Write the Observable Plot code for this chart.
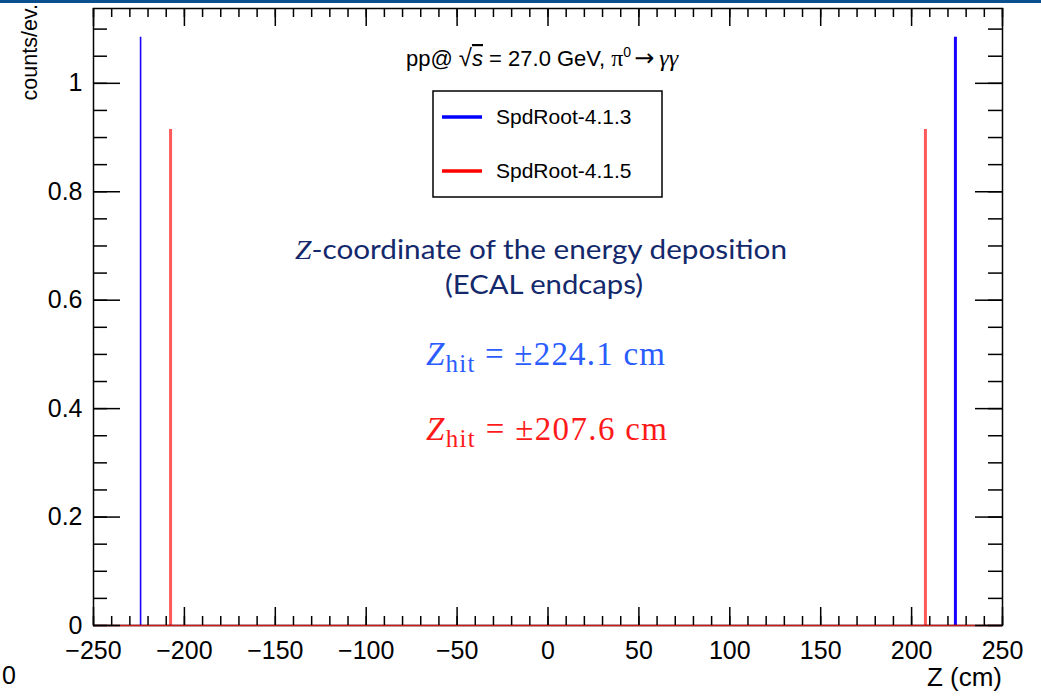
<!DOCTYPE html>
<html><head><meta charset="utf-8">
<script src="https://cdn.jsdelivr.net/npm/d3@7"></script>
<script src="https://cdn.jsdelivr.net/npm/@observablehq/plot@0.6"></script>
<style>
body{margin:0;background:#fff;}
#wrap{position:relative;width:1041px;height:696px;overflow:hidden;background:#fff;}
#wrap svg{position:absolute;left:0;top:0;}
#band{position:absolute;left:0;top:0;width:1041px;height:3px;background:#0b4f8e;}
</style></head><body><div id="wrap"><div id="band"></div></div>
<script>
// ---- data ----
const series = ["SpdRoot-4.1.3", "SpdRoot-4.1.5"];
const zHit = [224.1, 207.6];          // |Z| of the peaks (cm)
const peakCounts = [1.085, 0.915];    // counts/ev. of each peak
const xTickValues = [-250, -200, -150, -100, -50, 0, 50, 100, 150, 200, 250];
const xTickLabels = ["−250", "−200", "−150", "−100", "−50", "0", "50", "100", "150", "200", "250"];
const yTickValues = [0, 0.2, 0.4, 0.6, 0.8, 1];
const yTickLabels = ["0", "0.2", "0.4", "0.6", "0.8", "1"];
const xMinorStep = 10;
const yMinorStep = 0.05;
const xDomain = [-250, 250];
const yDomain = [0, 1.138];
const seriesColors = ["#1a00ff", "#ff5a5a"];
const legendColors = ["#0000ff", "#ff0000"];

// ---- derived tables ----
const bins = series.flatMap((s, i) => [
  {series: s, z: -zHit[i], counts: peakCounts[i]},
  {series: s, z: zHit[i], counts: peakCounts[i]}
]);
const xMinor = d3.range(xDomain[0], xDomain[1] + 1e-9, xMinorStep);
const yMinor = d3.range(yDomain[0], yDomain[1], yMinorStep);

const W = 1041, H = 696, mL = 93, mR = 39, mT = 8, mB = 71;
const iW = W - mL - mR, iH = H - mT - mB;
const font = "'Liberation Sans', Arial, Helvetica, sans-serif";

const chart = Plot.plot({
  width: W, height: H,
  marginLeft: mL, marginRight: mR, marginTop: mT, marginBottom: mB,
  style: {fontFamily: font, background: "transparent", color: "black", overflow: "visible"},
  x: {domain: xDomain, label: null},
  y: {domain: yDomain, label: null},
  color: {domain: series, range: seriesColors},
  marks: [
    Plot.ruleX(bins, {x: "z", y1: 0, y2: "counts", stroke: "series",
      strokeWidth: d => (d.series === series[0] && d.z < 0) ? 1.6 : 3}),
    Plot.frame({stroke: "black", strokeWidth: 1.5}),
    Plot.ruleY([0], {stroke: "#c81a1a", strokeWidth: 1.6}),
    // inward ticks, ROOT style, on all four sides
    Plot.ruleX(xMinor, {insetTop: iH - 9, stroke: "black", strokeWidth: 1.5}),
    Plot.ruleX(xTickValues, {insetTop: iH - 18, stroke: "black", strokeWidth: 1.5}),
    Plot.ruleX(xMinor, {insetBottom: iH - 9, stroke: "black", strokeWidth: 1.5}),
    Plot.ruleX(xTickValues, {insetBottom: iH - 18, stroke: "black", strokeWidth: 1.5}),
    Plot.ruleY(yMinor, {insetRight: iW - 14, stroke: "black", strokeWidth: 1.5}),
    Plot.ruleY(yTickValues, {insetRight: iW - 27, stroke: "black", strokeWidth: 1.5}),
    Plot.ruleY(yMinor, {insetLeft: iW - 14, stroke: "black", strokeWidth: 1.5}),
    Plot.ruleY(yTickValues, {insetLeft: iW - 27, stroke: "black", strokeWidth: 1.5}),
    Plot.axisX(xTickValues, {tickSize: 0, tickPadding: 16, fontSize: 25, label: null,
      tickFormat: d => xTickLabels[xTickValues.indexOf(d)]}),
    Plot.axisY(yTickValues, {tickSize: 0, tickPadding: 11, fontSize: 25, label: null,
      tickFormat: d => yTickLabels[yTickValues.indexOf(d)]})
  ]
});
document.getElementById("wrap").appendChild(chart);

// ---- overlay texts (title, legend, annotations, axis titles) ----
const ns = "http://www.w3.org/2000/svg";
const ov = document.createElementNS(ns, "svg");
ov.setAttribute("width", W); ov.setAttribute("height", H);
ov.style.pointerEvents = "none";
const calibri = "Lato, 'Open Sans', sans-serif";
const serif = "'Liberation Serif', 'DejaVu Serif', serif";
ov.innerHTML = `
<g font-family="${font}" fill="black">
  <text x="406" y="66" font-size="22">pp@<tspan dx="6" font-size="24">√</tspan><tspan font-style="italic" text-decoration="overline">s</tspan> = 27.0 GeV, <tspan font-family="${serif}" font-size="24">π</tspan><tspan font-size="14" dy="-9">0</tspan><tspan dy="9" dx="3" font-family="'DejaVu Sans', sans-serif" font-size="24">→</tspan><tspan dx="5" font-family="${serif}" font-style="italic" font-size="24">γγ</tspan></text>
  <rect x="433" y="91" width="229" height="106" fill="white" stroke="black" stroke-width="1.5"/>
  <line x1="442" x2="482" y1="117" y2="117" stroke="${legendColors[0]}" stroke-width="3.5"/>
  <line x1="442" x2="482" y1="171" y2="171" stroke="${legendColors[1]}" stroke-width="3.5"/>
  <text x="496" y="124" font-size="21">${series[0]}</text>
  <text x="496" y="178" font-size="21">${series[1]}</text>
  <text x="1002" y="686" text-anchor="end" font-size="26">Z (cm)</text>
  <text transform="translate(37,4) rotate(-90)" text-anchor="end" font-size="21.5">counts/ev.</text>
  <text x="2" y="684" font-size="25">0</text>
</g>
<g fill="#13296b" font-family="${calibri}" font-size="27.5">
  <text x="295" y="259" textLength="492" lengthAdjust="spacingAndGlyphs"><tspan font-family="${serif}" font-style="italic">Z</tspan>-coordinate of the energy deposition</text>
  <text x="445" y="294" textLength="198" lengthAdjust="spacingAndGlyphs">(ECAL endcaps)</text>
</g>
<g font-family="${serif}" font-size="33">
  <text x="426" y="365" fill="#2a5cff" textLength="239" lengthAdjust="spacing"><tspan font-style="italic">Z</tspan><tspan font-size="25" dy="7">hit</tspan><tspan dy="-7"> = ±224.1 cm</tspan></text>
  <text x="426" y="440" fill="#ff1a1a" textLength="241" lengthAdjust="spacing"><tspan font-style="italic">Z</tspan><tspan font-size="25" dy="7">hit</tspan><tspan dy="-7"> = ±207.6 cm</tspan></text>
</g>`;
document.getElementById("wrap").appendChild(ov);
</script>
</body></html>
